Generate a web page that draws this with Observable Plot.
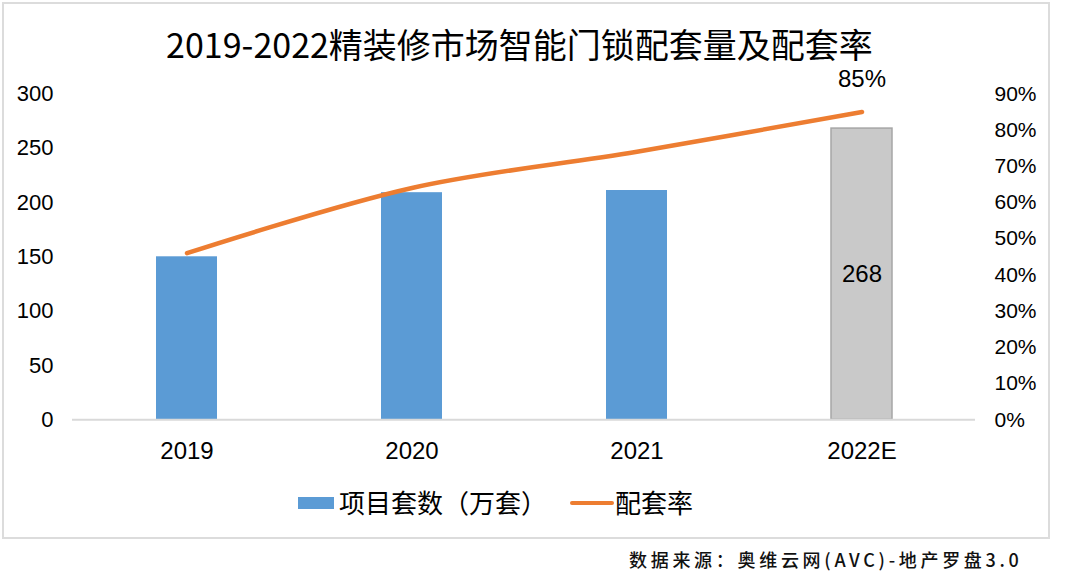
<!DOCTYPE html>
<html>
<head>
<meta charset="utf-8">
<script src="https://cdn.jsdelivr.net/npm/d3@7"></script>
<script src="https://cdn.jsdelivr.net/npm/@observablehq/plot@0.6"></script>
<style>
  body { margin: 0; background: #fff; }
  #wrap { position: relative; width: 1080px; height: 583px; overflow: hidden; font-family: "Noto Sans CJK SC", sans-serif; color: #000; }
  #frame { position: absolute; left: 2px; top: 2px; width: 1044px; height: 533px; border: 2px solid #dcdcdc; }
  #title { position: absolute; left: 0; top: 27px; width: 1039px; text-align: center; font-size: 34px; line-height: 34px; }
  #chart { position: absolute; left: 0; top: 60px; }
  .lg { position: absolute; }
  .lgt { position: absolute; font-size: 26px; line-height: 30px; top: 487px; white-space: nowrap; }
  #source { position: absolute; left: 629px; top: 548px; font-size: 18px; line-height: 22px; letter-spacing: 3.7px; font-weight: 500; white-space: nowrap; color: #111; }
</style>
</head>
<body>
<div id="wrap">
  <div id="frame"></div>
  <div id="title"></div>
  <div id="chart"></div>
  <div class="lg" id="sw1" style="left:298px;top:497px;width:36px;height:12px;background:#5b9bd5;"></div>
  <div class="lgt" id="lt1" style="left:339px;"></div>
  <div class="lg" id="sw2" style="left:570px;top:501px;width:44px;height:4px;border-radius:2px;background:#ed7d31;"></div>
  <div class="lgt" id="lt2" style="left:615px;"></div>
  <div id="source"></div>
</div>
<script>
const titleText = "2019-2022精装修市场智能门锁配套量及配套率";
const seriesNames = ["项目套数（万套）", "配套率"];
const sourceText = "数据来源：奥维云网(AVC)-地产罗盘3.0";

const years = ["2019", "2020", "2021", "2022E"];
const units = [150, 209, 211, 268];       // 项目套数（万套）
const rates = [46, 64, 74, 85];           // 配套率 (%)
const unitTicks = [0, 50, 100, 150, 200, 250, 300];
const rateTicks = [0, 10, 20, 30, 40, 50, 60, 70, 80, 90];

const K = 300 / 90; // right axis 0–90% mapped onto left axis 0–300

const bars = years.map((y, i) => ({year: y, units: units[i], estimate: y.endsWith("E")}));
const pts = years.map((y, i) => ({year: y, rate: rates[i]}));

document.getElementById("title").textContent = titleText;
document.getElementById("lt1").textContent = seriesNames[0];
document.getElementById("lt2").textContent = seriesNames[1];
document.getElementById("source").textContent = sourceText;

const chart = Plot.plot({
  width: 1080,
  height: 410,
  marginTop: 33.3,
  marginBottom: 50.7,
  marginLeft: 72,
  marginRight: 105,
  style: {fontFamily: "'Liberation Sans', Arial, sans-serif", background: "transparent", color: "#000", overflow: "visible"},
  x: {domain: years, paddingInner: 0.73, paddingOuter: 0.365, axis: null},
  y: {domain: [0, 300], axis: null},
  marks: [
    Plot.axisY({ticks: unitTicks, tickSize: 0, tickPadding: 19, fontSize: 22, label: null}),
    Plot.axisY({anchor: "right", ticks: rateTicks.map(d => d * K), tickFormat: d => Math.round(d / K) + "%", tickSize: 0, tickPadding: 19, fontSize: 21, label: null}),
    Plot.axisX({tickSize: 0, tickPadding: 22, fontSize: 24, label: null}),
    Plot.barY(bars.filter(d => !d.estimate), {x: "year", y: "units", fill: "#5b9bd5"}),
    Plot.barY(bars.filter(d => d.estimate), {x: "year", y: "units", fill: "#c9c9c9", stroke: "#a6a6a6", strokeWidth: 1.5}),
    Plot.ruleY([0], {stroke: "#d9d9d9", strokeWidth: 2}),
    Plot.line(pts, {x: "year", y: d => d.rate * K, stroke: "#ed7d31", strokeWidth: 4.5, curve: "catmull-rom", strokeLinecap: "round"}),
    Plot.text(bars.filter(d => d.estimate), {x: "year", y: d => d.units / 2, text: d => String(d.units), fontSize: 24}),
    Plot.text(pts.slice(-1), {x: "year", y: d => d.rate * K, text: d => d.rate + "%", dy: -33, fontSize: 24})
  ]
});
document.getElementById("chart").appendChild(chart);
</script>
</body>
</html>
